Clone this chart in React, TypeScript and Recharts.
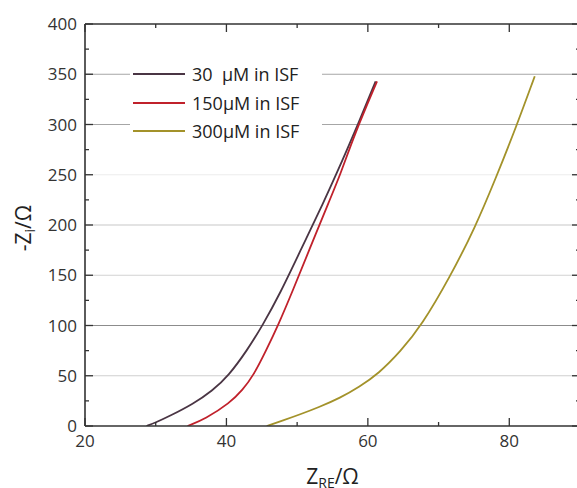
import React from 'react';
import { LineChart, Line, XAxis, YAxis, ReferenceLine, Legend, Label } from 'recharts';

// Nyquist-type curves (Z_RE in ohm, -Z_i in ohm)
const isf30X = [28.7, 30, 32, 35.3, 38, 40.3, 42.9, 45.1, 47.6, 50.5, 53.9, 55.5, 58.0, 61.1];
const isf30Y = [0, 3.5, 10, 22, 35, 50, 75, 100, 132, 175, 225, 250, 290, 343];

const isf150X = [34.5, 37, 40.5, 42.3, 43.8, 45.6, 47.3, 49.4, 51.7, 54.6, 56.1, 58.1, 61.3];
const isf150Y = [0, 7, 23, 36, 50, 75, 100, 135, 175, 225, 250, 290, 343];

const isf300X = [45.7, 48, 50.4, 53, 56.1, 58.8, 61.5, 64.6, 67.6, 71.6, 75.2, 78, 81, 83.6];
const isf300Y = [0, 5.5, 11.5, 18.5, 28, 39, 52, 74, 100, 148, 198, 245, 298, 348];

const seriesNames = ['30  μM in ISF', '150μM in ISF', '300μM in ISF'];

const xTicks = [20, 30, 40, 50, 60, 70, 80, 90];
const yTicks = [0, 25, 50, 75, 100, 125, 150, 175, 200, 225, 250, 275, 300, 325, 350, 375, 400];
const gridValues = [50, 100, 150, 200, 250, 300, 350];

const toPoints = (xs: number[], ys: number[]) => xs.map((x, i) => ({ x, y: ys[i] }));

const data30 = toPoints(isf30X, isf30Y);
const data150 = toPoints(isf150X, isf150Y);
const data300 = toPoints(isf300X, isf300Y);

const font = '"Open Sans", "Noto Sans", sans-serif';
const axisColor = '#333';
const gridColors: Record<number, string> = {
  50: '#cfcfcf', 100: '#8c8c8c', 150: '#d2d2d2', 200: '#c8c8c8',
  250: '#ececec', 300: '#a6a6a6', 350: '#a6a6a6',
};

const BottomTick = (props: any) => {
  const { x, y, payload } = props;
  const axisY = y - 9;
  const major = payload.value % 20 === 0;
  return (
    <g>
      <line x1={x} x2={x} y1={axisY} y2={axisY - (major ? 8 : 4)} stroke={axisColor} strokeWidth={1.3} />
      {major && (
        <text x={x} y={y} dy="0.71em" textAnchor="middle" fontSize={17} fill="#333" fontFamily={font}>
          {payload.value}
        </text>
      )}
    </g>
  );
};

const TopTick = (props: any) => {
  const { x, y, payload } = props;
  const major = payload.value % 20 === 0;
  return <line x1={x} x2={x} y1={y} y2={y + (major ? 8 : 4)} stroke={axisColor} strokeWidth={1.3} />;
};

const LeftTick = (props: any) => {
  const { x, y, payload } = props;
  const axisX = x + 8;
  const major = payload.value % 50 === 0;
  return (
    <g>
      <line x1={axisX} x2={axisX + (major ? 8 : 4)} y1={y} y2={y} stroke={axisColor} strokeWidth={1.3} />
      {major && (
        <text x={x} y={y} dy="0.355em" textAnchor="end" fontSize={17} fill="#333" fontFamily={font}>
          {payload.value}
        </text>
      )}
    </g>
  );
};

const RightTick = (props: any) => {
  const { x, y, payload } = props;
  const major = payload.value % 50 === 0;
  return <line x1={x} x2={x - (major ? 8 : 4)} y1={y} y2={y} stroke={axisColor} strokeWidth={1.3} />;
};

const XTitle = (props: any) => {
  const { viewBox } = props;
  const cx = viewBox.x + viewBox.width / 2;
  return (
    <text x={cx} y={viewBox.y + 58} textAnchor="middle" fontSize={21} fill="#222" fontFamily={font}>
      Z<tspan fontSize={14} dy={4}>RE</tspan><tspan dy={-4}>/Ω</tspan>
    </text>
  );
};

const YTitle = (props: any) => {
  const { viewBox } = props;
  const cy = viewBox.y + viewBox.height / 2 + 3;
  const tx = 31;
  return (
    <text x={tx} y={cy} textAnchor="middle" fontSize={21} fill="#222" fontFamily={font}
      transform={`rotate(-90, ${tx}, ${cy})`}>
      -Z<tspan fontSize={14} dy={4}>i</tspan><tspan dy={-4}>/Ω</tspan>
    </text>
  );
};

const renderLegend = (props: any) => {
  const payload: any[] = props.payload || [];
  const items = seriesNames.map((name) => payload.find((p) => p.value === name)).filter(Boolean);
  return (
    <div style={{ background: '#fff', paddingLeft: 3 }}>
      {items.map((entry: any) => (
        <div key={entry.value} style={{ display: 'flex', alignItems: 'center', height: 28.5 }}>
          <span style={{ display: 'inline-block', width: 52, height: 0, borderTop: `2px solid ${entry.color}`, marginRight: 7 }} />
          <span style={{ fontSize: 18, whiteSpace: 'pre', color: '#222', fontFamily: font }}>{entry.value}</span>
        </div>
      ))}
    </div>
  );
};

export default function App() {
  return (
    <div style={{ position: 'absolute', left: 0, top: 0, width: 577, height: 488, overflow: 'hidden', background: '#fff' }}>
      <LineChart width={585} height={488} margin={{ top: 23, right: 4, bottom: 0, left: 0 }}>
        <XAxis
          dataKey="x" type="number" domain={[20, 90]} ticks={xTicks} interval={0}
          height={62} tickSize={0} tickMargin={9} tick={<BottomTick />}
          axisLine={{ stroke: axisColor, strokeWidth: 1.6 }} allowDataOverflow
        >
          <Label content={<XTitle />} />
        </XAxis>
        <XAxis
          xAxisId="top" orientation="top" dataKey="x" type="number" domain={[20, 90]} ticks={xTicks} interval={0}
          height={1} tickSize={0} tickMargin={0} tick={<TopTick />}
          axisLine={{ stroke: axisColor, strokeWidth: 1.6 }} allowDataOverflow
        />
        <YAxis
          type="number" domain={[0, 400]} ticks={yTicks} interval={0}
          width={85} tickSize={0} tickMargin={8} tick={<LeftTick />}
          axisLine={{ stroke: axisColor, strokeWidth: 1.6 }} allowDataOverflow
        >
          <Label content={<YTitle />} />
        </YAxis>
        <YAxis
          yAxisId="right" orientation="right" type="number" domain={[0, 400]} ticks={yTicks} interval={0}
          width={1} tickSize={0} tickMargin={0} tick={<RightTick />}
          axisLine={{ stroke: axisColor, strokeWidth: 1.6 }} allowDataOverflow
        />
        {gridValues.map((v) => (
          <ReferenceLine key={v} y={v} stroke={gridColors[v]} strokeWidth={1.2} />
        ))}
        <Legend
          layout="horizontal" verticalAlign="middle" align="center"
          content={renderLegend}
          wrapperStyle={{ left: 130, top: 60, width: 192 }}
        />
        <Line data={data30} dataKey="y" name={seriesNames[0]} type="basis" stroke="#4a3544"
          strokeWidth={1.8} dot={false} isAnimationActive={false} />
        <Line data={data150} dataKey="y" name={seriesNames[1]} type="basis" stroke="#c0212b"
          strokeWidth={1.8} dot={false} isAnimationActive={false} />
        <Line data={data300} dataKey="y" name={seriesNames[2]} type="basis" stroke="#a3922a"
          strokeWidth={1.8} dot={false} isAnimationActive={false} />
      </LineChart>
    </div>
  );
}
